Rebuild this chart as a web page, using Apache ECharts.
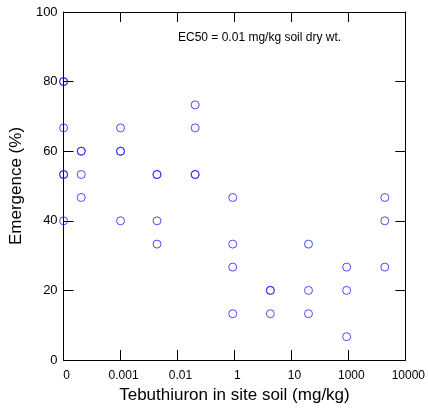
<!DOCTYPE html>
<html>
<head>
<meta charset="utf-8">
<script src="https://cdn.jsdelivr.net/npm/echarts@6/dist/echarts.min.js"></script>
<style>html,body{margin:0;padding:0;background:#fff;}#c{width:428px;height:410px;}</style>
</head>
<body>
<div id="c"></div>
<script>
// Tick labels of the x axis (evenly spaced positions 0..6)
var xTickLabels = ['0', '0.001', '0.01', '1', '10', '1000', '10000'];
// Dose positions on the axis (in tick-index units) and emergence values (%)
var dosePos = [0, 0, 0, 0, 0, 0,
               0.31, 0.31, 0.31, 0.31,
               1, 1, 1, 1,
               1.64, 1.64, 1.64, 1.64,
               2.31, 2.31, 2.31, 2.31,
               2.97, 2.97, 2.97, 2.97,
               3.63, 3.63, 3.63,
               4.30, 4.30, 4.30,
               4.97, 4.97, 4.97,
               5.64, 5.64, 5.64];
var emergence = [80, 80, 66.7, 53.3, 53.3, 40,
                 60, 60, 53.3, 46.7,
                 66.7, 60, 60, 40,
                 53.3, 53.3, 40, 33.3,
                 73.3, 66.7, 53.3, 53.3,
                 46.7, 33.3, 26.7, 13.3,
                 20, 20, 13.3,
                 33.3, 20, 13.3,
                 26.7, 20, 6.7,
                 46.7, 40, 26.7];
var annotation = 'EC50 = 0.01 mg/kg soil dry wt.';

var pts = dosePos.map(function (x, i) { return [x, emergence[i]]; });
var font = 'Liberation Sans, Arial, sans-serif';
var axLine = { show: true, onZero: false, lineStyle: { color: '#000', width: 1 } };
var tick = { show: true, inside: true, length: 10, lineStyle: { color: '#000', width: 1 } };

var chart = echarts.init(document.getElementById('c'), null, { renderer: 'canvas' });
chart.setOption({
  animation: false,
  backgroundColor: '#fff',
  grid: { left: 59, right: 19, top: 12, bottom: 50 },
  xAxis: [{
    type: 'value', min: 0, max: 6, interval: 1, position: 'bottom',
    name: 'Tebuthiuron in site soil (mg/kg)', nameLocation: 'middle', nameGap: 27,
    nameTextStyle: { fontFamily: font, fontSize: 17, color: '#000' },
    axisLine: axLine, axisTick: tick, splitLine: { show: false },
    axisLabel: { fontFamily: font, fontSize: 12, color: '#000', margin: 10, padding: [0, 0, 0, 6],
      formatter: function (v) { return xTickLabels[Math.round(v)]; } }
  }, {
    type: 'value', min: 0, max: 6, interval: 1, position: 'top',
    axisLine: axLine, axisTick: tick, axisLabel: { show: false }, splitLine: { show: false }
  }],
  yAxis: [{
    type: 'value', min: 0, max: 100, interval: 20, position: 'left',
    name: 'Emergence (%)', nameLocation: 'middle', nameGap: 30,
    nameTextStyle: { fontFamily: font, fontSize: 17, color: '#000' },
    axisLine: axLine, axisTick: tick, splitLine: { show: false },
    axisLabel: { fontFamily: font, fontSize: 13, color: '#000', margin: 6 }
  }, {
    type: 'value', min: 0, max: 100, interval: 20, position: 'right',
    axisLine: axLine, axisTick: tick, axisLabel: { show: false }, splitLine: { show: false }
  }],
  graphic: [{
    type: 'text', left: 178, top: 32,
    style: { text: annotation, fontFamily: font, fontSize: 12, fill: '#000' }
  }],
  series: [{
    type: 'scatter', data: pts, clip: false,
    symbol: 'circle', symbolSize: 8,
    itemStyle: { color: 'rgba(255,255,255,0)', borderColor: '#2020ff', borderWidth: 1 }
  }]
});
</script>
</body>
</html>
